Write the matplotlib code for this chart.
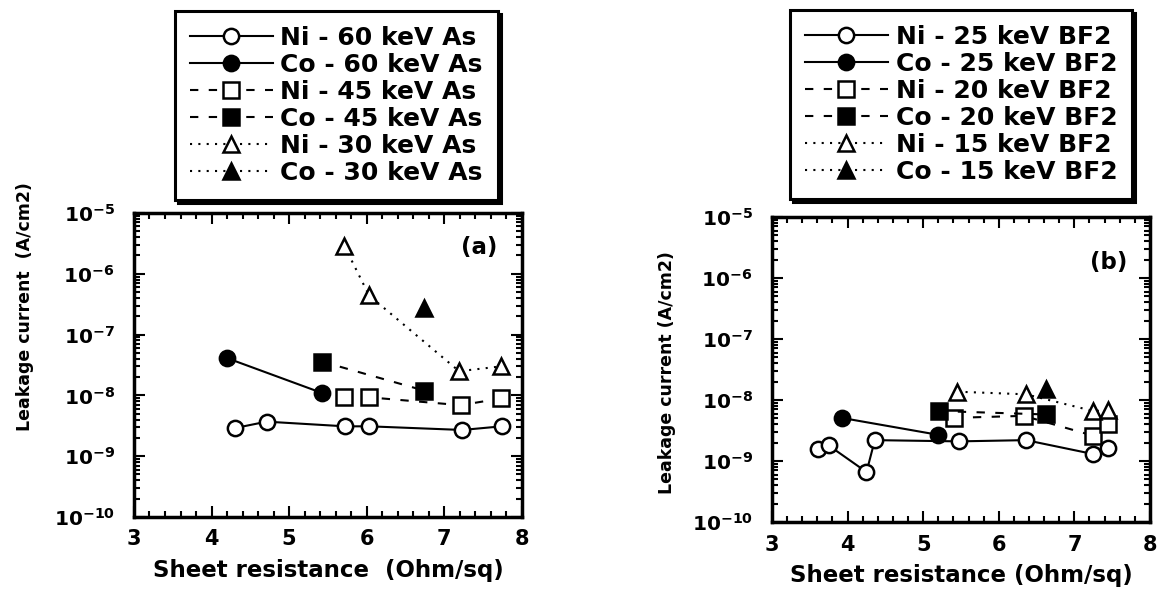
import matplotlib
matplotlib.use("Agg")
import matplotlib.pyplot as plt
from matplotlib.ticker import FixedLocator, FixedFormatter, LogLocator, MultipleLocator, NullFormatter

plt.rcParams['font.family'] = ['DejaVu Sans']
plt.rcParams['font.weight'] = 'bold'
plt.rcParams['mathtext.fontset'] = 'custom'
plt.rcParams['mathtext.rm'] = 'DejaVu Sans:bold'
plt.rcParams['mathtext.bf'] = 'DejaVu Sans:bold'
plt.rcParams['mathtext.it'] = 'DejaVu Sans:bold'

# ---- panel (a): As implant ----
ni60_x = [4.30, 4.71, 5.72, 6.03, 7.23, 7.74]
ni60_y = [2.9e-9, 3.7e-9, 3.1e-9, 3.1e-9, 2.7e-9, 3.1e-9]
co60_x = [4.20, 5.42]
co60_y = [4.1e-8, 1.1e-8]
ni45_x = [5.71, 6.03, 7.21, 7.73]
ni45_y = [9.3e-9, 9.3e-9, 6.9e-9, 8.9e-9]
co45_x = [5.42, 6.74]
co45_y = [3.6e-8, 1.2e-8]
ni30_x = [5.71, 6.03, 7.19, 7.73]
ni30_y = [2.9e-6, 4.4e-7, 2.5e-8, 3.0e-8]
co30_x = [6.74]
co30_y = [2.7e-7]
labels_a = ['Ni - 60 keV As', 'Co - 60 keV As', 'Ni - 45 keV As',
            'Co - 45 keV As', 'Ni - 30 keV As', 'Co - 30 keV As']

# ---- panel (b): BF2 implant ----
ni25_x = [3.61, 3.75, 4.25, 4.36, 5.47, 6.36, 7.25, 7.45]
ni25_y = [1.55e-9, 1.8e-9, 6.6e-10, 2.2e-9, 2.1e-9, 2.2e-9, 1.3e-9, 1.65e-9]
co25_x = [3.92, 5.19]
co25_y = [5.1e-9, 2.7e-9]
ni20_x = [5.41, 6.33, 7.25, 7.45]
ni20_y = [5.1e-9, 5.5e-9, 2.6e-9, 4.0e-9]
co20_x = [5.21, 6.62]
co20_y = [6.6e-9, 5.8e-9]
ni15_x = [5.45, 6.36, 7.25, 7.45]
ni15_y = [1.37e-8, 1.24e-8, 6.6e-9, 6.8e-9]
co15_x = [6.62]
co15_y = [1.5e-8]
labels_b = ['Ni - 25 keV BF2', 'Co - 25 keV BF2', 'Ni - 20 keV BF2',
            'Co - 20 keV BF2', 'Ni - 15 keV BF2', 'Co - 15 keV BF2']

y_ticks = [1e-10, 1e-9, 1e-8, 1e-7, 1e-6, 1e-5]
y_ticklabels = [r'$\mathbf{10^{-10}}$', r'$\mathbf{10^{-9}}$', r'$\mathbf{10^{-8}}$',
                r'$\mathbf{10^{-7}}$', r'$\mathbf{10^{-6}}$', r'$\mathbf{10^{-5}}$']
x_ticks = [3, 4, 5, 6, 7, 8]

solid = '-'
dashed = (0, (4, 5))
dotted = (0, (1, 3))
styles = [('o', 'white', solid), ('o', 'black', solid),
          ('s', 'white', dashed), ('s', 'black', dashed),
          ('^', 'white', dotted), ('^', 'black', dotted)]

fig = plt.figure(figsize=(11.63, 5.92), dpi=100)
ax_a = fig.add_axes([0.1152, 0.1267, 0.3336, 0.5135])
ax_b = fig.add_axes([0.6638, 0.1182, 0.3250, 0.5152])


def draw_panel(ax, series, labels, tag, ty, xlabel):
    handles = []
    for (x, y), (m, fc, ls), lab in zip(series, styles, labels):
        h, = ax.plot(x, y, linestyle=ls, color='black', lw=1.5, marker=m,
                     markersize=11, markerfacecolor=fc, markeredgecolor='black',
                     markeredgewidth=1.8, label=lab)
        handles.append(h)
    ax.set_yscale('log')
    ax.set_xlim(3, 8)
    ax.set_ylim(1e-10, 1e-5)
    ax.yaxis.set_major_locator(FixedLocator(y_ticks))
    ax.yaxis.set_major_formatter(FixedFormatter(y_ticklabels))
    ax.yaxis.set_minor_locator(LogLocator(base=10, subs=range(2, 10), numticks=20))
    ax.yaxis.set_minor_formatter(NullFormatter())
    ax.xaxis.set_major_locator(FixedLocator(x_ticks))
    ax.xaxis.set_minor_locator(MultipleLocator(0.2))
    ax.tick_params(which='both', direction='in', top=True, right=True, width=1.5)
    ax.tick_params(axis='y', which='major', length=8, labelsize=14.5, pad=14)
    ax.tick_params(axis='x', which='major', length=8, labelsize=15, pad=9)
    ax.tick_params(which='minor', length=4)
    for sp in ax.spines.values():
        sp.set_linewidth(2.5)
    ax.text(0.89, ty, tag, transform=ax.transAxes,
            fontsize=16.5, fontweight='bold', ha='center', va='center')
    ax.set_xlabel(xlabel, fontsize=16.5, fontweight='bold', labelpad=7)
    return handles


h_a = draw_panel(ax_a, [(ni60_x, ni60_y), (co60_x, co60_y), (ni45_x, ni45_y),
                        (co45_x, co45_y), (ni30_x, ni30_y), (co30_x, co30_y)],
                 labels_a, '(a)', 0.885, 'Sheet resistance  (Ohm/sq)')
h_b = draw_panel(ax_b, [(ni25_x, ni25_y), (co25_x, co25_y), (ni20_x, ni20_y),
                        (co20_x, co20_y), (ni15_x, ni15_y), (co15_x, co15_y)],
                 labels_b, '(b)', 0.85, 'Sheet resistance (Ohm/sq)')

fig.text(25 / 1163, 1 - 307 / 592, 'Leakage current  (A/cm2)', rotation=90,
         fontsize=12.5, fontweight='bold', ha='center', va='center')
fig.text(667 / 1163, 1 - 373 / 592, 'Leakage current (A/cm2)', rotation=90,
         fontsize=12.5, fontweight='bold', ha='center', va='center')

for handles, x0, y0 in [(h_a, 175 / 1163, 1 - 11 / 592), (h_b, 790 / 1163, 1 - 10 / 592)]:
    leg = fig.legend(handles=handles, loc='upper left', bbox_to_anchor=(x0, y0),
                     frameon=True, fancybox=False, handlelength=3.3,
                     handletextpad=0.32, labelspacing=0.12, borderpad=0.6,
                     borderaxespad=0, prop={'weight': 'bold', 'size': 18},
                     shadow={'ox': 2, 'oy': -2, 'color': 'black', 'alpha': 1})
    leg.get_frame().set_edgecolor('black')
    leg.get_frame().set_linewidth(2.2)

fig.savefig('out.png', dpi=100)
